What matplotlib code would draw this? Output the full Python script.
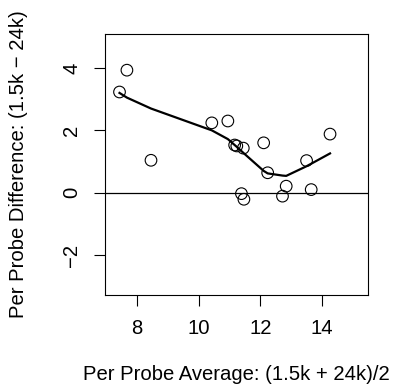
import matplotlib
matplotlib.use("Agg")
import matplotlib.pyplot as plt

plt.rcParams['font.family'] = ['Liberation Sans', 'DejaVu Sans']

# per probe average (x) and difference (y)
avg = [7.44, 7.68, 8.46, 10.43, 10.95, 11.17, 11.24, 11.45, 11.39, 11.47,
       12.11, 12.24, 12.72, 12.84, 13.50, 13.65, 14.26]
diff = [3.23, 3.93, 1.04, 2.24, 2.30, 1.53, 1.50, 1.43, -0.03, -0.21,
        1.60, 0.64, -0.11, 0.21, 1.03, 0.10, 1.88]

# smoothed (lowess) curve
fit_x = [7.44, 7.68, 8.46, 10.43, 10.95, 11.24, 11.45, 12.11, 12.24,
         12.72, 12.84, 13.50, 13.65, 14.26]
fit_y = [3.20, 3.05, 2.70, 2.00, 1.72, 1.47, 1.28, 0.70, 0.62,
         0.55, 0.54, 0.85, 0.93, 1.26]

xticks = [8, 10, 12, 14]
yticks = [-2, 0, 2, 4]
FS = 14.6

fig = plt.figure(figsize=(3.93, 3.92), dpi=100)
ax = fig.add_axes([105 / 393, 97 / 392, 263 / 393, 261 / 392])

ax.scatter(avg, diff, s=70, facecolors='none', edgecolors='black', linewidths=0.8, zorder=3)
ax.plot(fit_x, fit_y, color='black', lw=1.6, zorder=2)
ax.axhline(0, color='black', lw=0.9)

ax.set_xlim(6.97, 15.49)
ax.set_ylim(-3.28, 5.09)
ax.set_xticks(xticks)
ax.set_yticks(yticks)
ax.set_xticklabels([str(t) for t in xticks], fontsize=FS)
ax.set_yticklabels(['\u2212' + str(-t) if t < 0 else str(t) for t in yticks],
                   fontsize=FS, rotation=90, va='center')
ax.tick_params(length=8, width=0.8, pad=9)
for s in ax.spines.values():
    s.set_linewidth(0.8)

ax.set_xlabel('Per Probe Average: (1.5k + 24k)/2', fontsize=FS, labelpad=20)
ax.set_ylabel('Per Probe Difference: (1.5k \u2212 24k)', fontsize=FS, labelpad=25)

fig.savefig('out.png', dpi=100)
